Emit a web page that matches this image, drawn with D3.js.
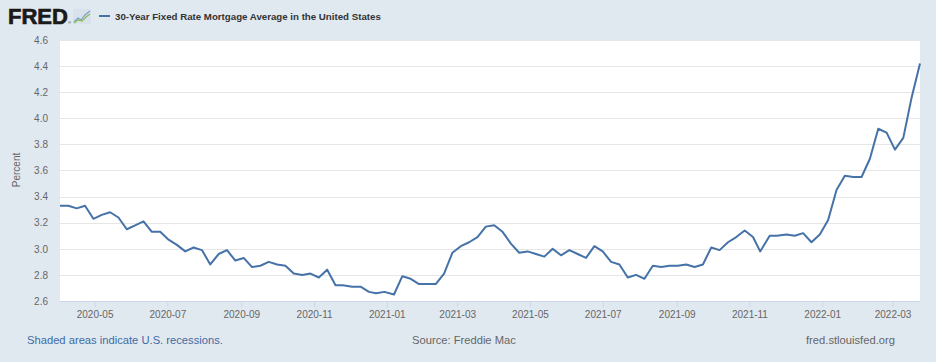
<!DOCTYPE html>
<html><head><meta charset="utf-8">
<script src="https://cdn.jsdelivr.net/npm/d3@7"></script>
<style>
html,body{margin:0;padding:0;background:#e1e9f0;}
svg{display:block;font-family:"Liberation Sans",Arial,sans-serif;}
</style></head>
<body>
<svg id="chart" width="936" height="362"></svg>
<script>
const dates = [
"2020-04-02","2020-04-09","2020-04-16","2020-04-23","2020-04-30",
"2020-05-07","2020-05-14","2020-05-21","2020-05-28",
"2020-06-04","2020-06-11","2020-06-18","2020-06-25",
"2020-07-02","2020-07-09","2020-07-16","2020-07-23","2020-07-30",
"2020-08-06","2020-08-13","2020-08-20","2020-08-27",
"2020-09-03","2020-09-10","2020-09-17","2020-09-24",
"2020-10-01","2020-10-08","2020-10-15","2020-10-22","2020-10-29",
"2020-11-05","2020-11-12","2020-11-19","2020-11-25",
"2020-12-03","2020-12-10","2020-12-17","2020-12-23","2020-12-30",
"2021-01-07","2021-01-14","2021-01-21","2021-01-28",
"2021-02-04","2021-02-11","2021-02-18","2021-02-25",
"2021-03-04","2021-03-11","2021-03-18","2021-03-25",
"2021-04-01","2021-04-08","2021-04-15","2021-04-22","2021-04-29",
"2021-05-06","2021-05-13","2021-05-20","2021-05-27",
"2021-06-03","2021-06-10","2021-06-17","2021-06-24",
"2021-07-01","2021-07-08","2021-07-15","2021-07-22","2021-07-29",
"2021-08-05","2021-08-12","2021-08-19","2021-08-26",
"2021-09-02","2021-09-09","2021-09-16","2021-09-23","2021-09-30",
"2021-10-07","2021-10-14","2021-10-21","2021-10-28",
"2021-11-04","2021-11-10","2021-11-18","2021-11-24",
"2021-12-02","2021-12-09","2021-12-16","2021-12-23","2021-12-30",
"2022-01-06","2022-01-13","2022-01-20","2022-01-27",
"2022-02-03","2022-02-10","2022-02-17","2022-02-24",
"2022-03-03","2022-03-10","2022-03-17","2022-03-24"];
const rates = [
3.33,3.33,3.31,3.33,3.23,
3.26,3.28,3.24,3.15,
3.18,3.21,3.13,3.13,
3.07,3.03,2.98,3.01,2.99,
2.88,2.96,2.99,2.91,
2.93,2.86,2.87,2.90,
2.88,2.87,2.81,2.80,2.81,
2.78,2.84,2.72,2.72,
2.71,2.71,2.67,2.66,2.67,
2.65,2.79,2.77,2.73,
2.73,2.73,2.81,2.97,
3.02,3.05,3.09,3.17,
3.18,3.13,3.04,2.97,2.98,
2.96,2.94,3.00,2.95,
2.99,2.96,2.93,3.02,
2.98,2.90,2.88,2.78,2.80,
2.77,2.87,2.86,2.87,
2.87,2.88,2.86,2.88,3.01,
2.99,3.05,3.09,3.14,
3.09,2.98,3.10,3.10,
3.11,3.10,3.12,3.05,3.11,
3.22,3.45,3.56,3.55,
3.55,3.69,3.92,3.89,
3.76,3.85,4.16,4.42];
const yTicks = [2.6,2.8,3.0,3.2,3.4,3.6,3.8,4.0,4.2,4.4,4.6];
const xTickLabels = ["2020-05","2020-07","2020-09","2020-11","2021-01","2021-03","2021-05","2021-07","2021-09","2021-11","2022-01","2022-03"];
const seriesTitle = "30-Year Fixed Rate Mortgage Average in the United States";
const yLabel = "Percent";
const footLeft = "Shaded areas indicate U.S. recessions.";
const footMid = "Source: Freddie Mac";
const footRight = "fred.stlouisfed.org";

const parse = d3.utcParse("%Y-%m-%d");
const parseM = d3.utcParse("%Y-%m");
const data = dates.map((d,i)=>({date:parse(d), v:rates[i]}));

const svg = d3.select("#chart");
const L=60, R=920, T=40, B=301;

const x = d3.scaleUtc().domain([data[0].date, data[data.length-1].date]).range([L,R]);
const y = d3.scaleLinear().domain([2.6,4.6]).range([B,T]);

svg.append("rect").attr("x",L).attr("y",T).attr("width",R-L).attr("height",B-T).attr("fill","#ffffff");

svg.append("g").selectAll("line").data(yTicks.slice(1)).join("line")
  .attr("x1",L).attr("x2",R).attr("y1",d=>Math.round(y(d))+0.5).attr("y2",d=>Math.round(y(d))+0.5)
  .attr("stroke","#e6e6e6").attr("stroke-width",1);

const yAxis = d3.axisLeft(y).tickValues(yTicks).tickFormat(d3.format(".1f")).tickSize(0).tickPadding(12);
const gy = svg.append("g").attr("transform",`translate(${L},0)`).call(yAxis);
gy.select(".domain").remove();
gy.selectAll("text").attr("fill","#666666").style("font-size","10px");

const xAxis = d3.axisBottom(x).tickValues(xTickLabels.map(parseM)).tickFormat(d3.utcFormat("%Y-%m")).tickSize(6).tickPadding(4);
const gx = svg.append("g").attr("transform",`translate(0,${B})`).call(xAxis);
gx.select(".domain").attr("stroke","#ccd6eb").attr("d",`M${L},0.5H${R}`);
gx.selectAll(".tick line").attr("stroke","#ccd6eb");
gx.selectAll("text").attr("fill","#666666").style("font-size","10px");

svg.append("text").attr("transform","translate(20,170) rotate(-90)").attr("text-anchor","middle")
  .attr("fill","#666666").style("font-size","10px").text(yLabel);

svg.append("path").datum(data)
  .attr("d", d3.line().x(d=>x(d.date)).y(d=>y(d.v)))
  .attr("fill","none").attr("stroke","#4572a7").attr("stroke-width",2).attr("stroke-linejoin","round");

// FRED logo
svg.append("text").attr("x",8).attr("y",24).attr("fill","#1a1a1a").attr("stroke","#1a1a1a").attr("stroke-width",0.7)
  .style("font-size","22px").style("font-weight","bold").text("FRED");
svg.append("text").attr("x",68).attr("y",24).attr("fill","#1a1a1a").style("font-size","4px").text("®");
const ic = svg.append("g").attr("transform","translate(73,9)");
ic.append("rect").attr("width",18).attr("height",15).attr("fill","#d8e2ea");
ic.append("path").attr("d","M1,13 L5,9 L8,11 L12,6 L17,2").attr("fill","none").attr("stroke","#7aa0c8").attr("stroke-width",1.2);
ic.append("path").attr("d","M1,14 L5,11 L9,12 L13,8 L17,5").attr("fill","none").attr("stroke","#8dbb5a").attr("stroke-width",1.2);

// legend
svg.append("line").attr("x1",99).attr("x2",110).attr("y1",16).attr("y2",16).attr("stroke","#4572a7").attr("stroke-width",2);
svg.append("text").attr("x",115).attr("y",19.5).attr("fill","#333333")
  .style("font-size","9.7px").style("font-weight","bold").text(seriesTitle);

// footer
svg.append("text").attr("x",27).attr("y",344).attr("fill","#3e6aa3").style("font-size","11.2px").text(footLeft);
svg.append("text").attr("x",412).attr("y",344).attr("fill","#666666").style("font-size","11.2px").text(footMid);
svg.append("text").attr("x",806).attr("y",344).attr("fill","#666666").style("font-size","11.2px").text(footRight);
</script>
</body></html>
